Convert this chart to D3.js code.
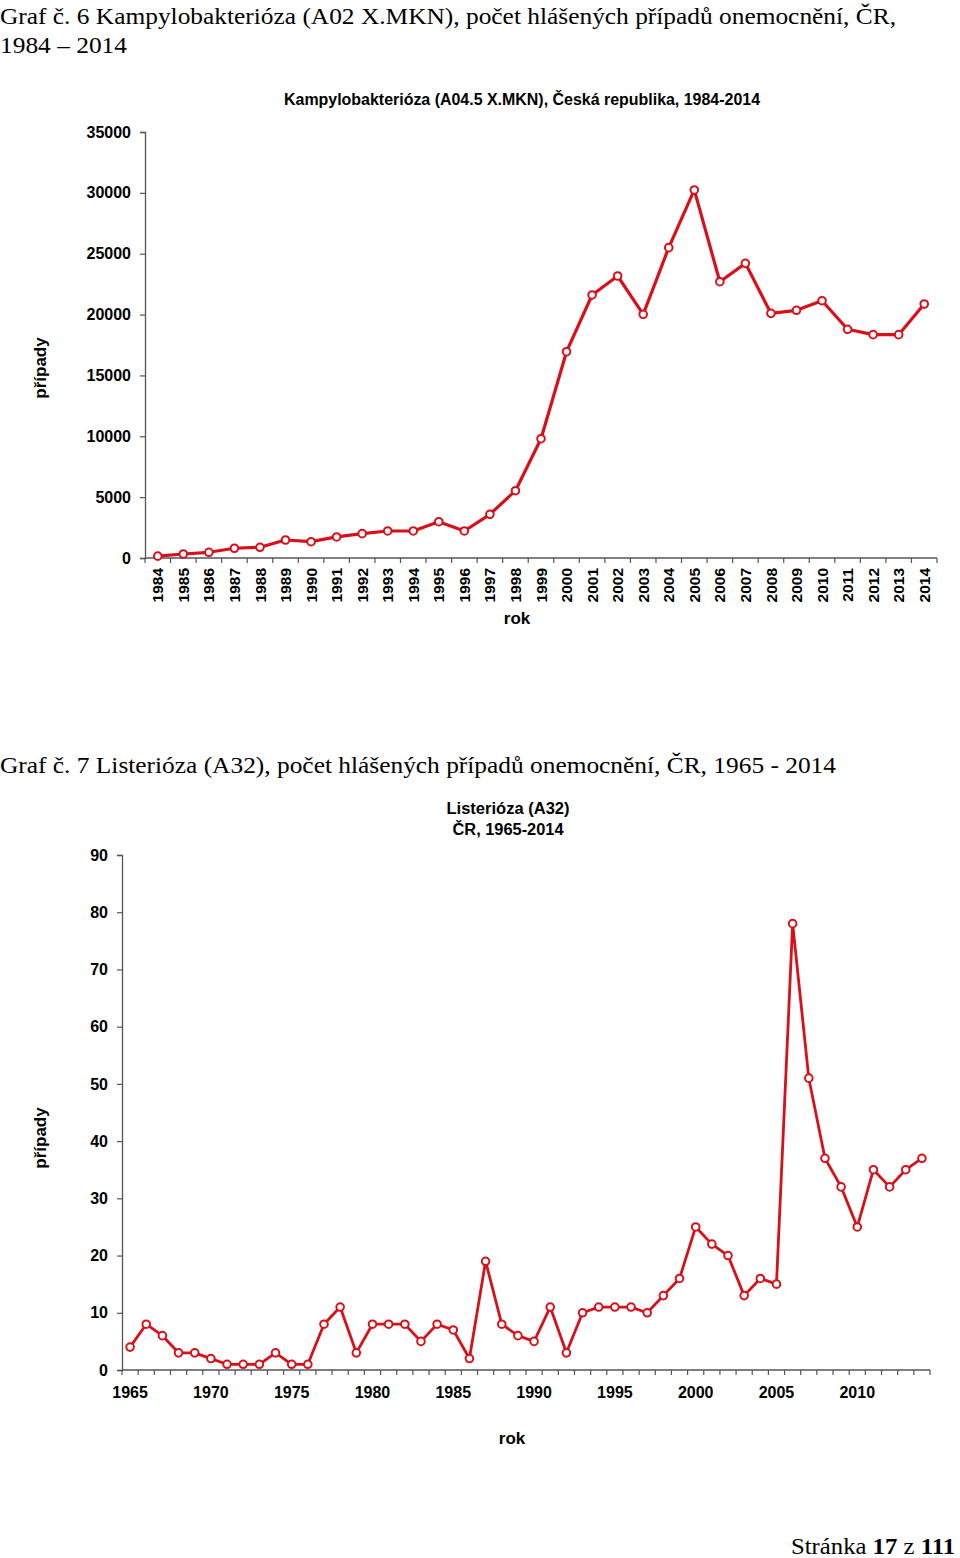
<!DOCTYPE html>
<html>
<head>
<meta charset="utf-8">
<script src="https://cdn.jsdelivr.net/npm/d3@7"></script>
<style>
  html, body { margin: 0; padding: 0; background: #fff; }
  svg { display: block; }
</style>
</head>
<body>
<script>
// ---------- DATA ----------
const campyYears = d3.range(1984, 2015);
const campyValues = [150, 330, 470, 800, 880, 1480, 1340, 1730, 2000, 2220,
  2220, 2980, 2220, 3590, 5530, 9800, 16950, 21610, 23170, 20020,
  25500, 30240, 22700, 24210, 20100, 20350, 21140, 18790, 18350, 18350, 20870];
const campyYTicks = [0, 5000, 10000, 15000, 20000, 25000, 30000, 35000];

const listYears = d3.range(1965, 2015);
const listValues = [4, 8, 6, 3, 3, 2, 1, 1, 1, 3,
  1, 1, 8, 11, 3, 8, 8, 8, 5, 8,
  7, 2, 19, 8, 6, 5, 11, 3, 10, 11,
  11, 11, 10, 13, 16, 25, 22, 20, 13, 16,
  15, 78, 51, 37, 32, 25, 35, 32, 35, 37];
const listYTicks = [0, 10, 20, 30, 40, 50, 60, 70, 80, 90];
const listXLabels = [1965, 1970, 1975, 1980, 1985, 1990, 1995, 2000, 2005, 2010];

const heading1a = "Graf č. 6 Kampylobakterióza (A02 X.MKN), počet hlášených případů onemocnění, ČR,";
const heading1b = "1984 – 2014";
const title1 = "Kampylobakterióza (A04.5 X.MKN), Česká republika, 1984-2014";
const heading2 = "Graf č. 7 Listerióza (A32), počet hlášených případů onemocnění, ČR, 1965 - 2014";
const title2a = "Listerióza (A32)";
const title2b = "ČR, 1965-2014";
const yLabel = "případy";
const xLabel = "rok";

// ---------- SETUP ----------
const W = 960, H = 1558;
const RED = "#d8101a";
const AXIS = "#555";
const SERIF = "'Liberation Serif', 'Times New Roman', serif";
const SANS = "'Liberation Sans', Arial, sans-serif";
const NARROW = "'Liberation Sans Narrow', 'Arial Narrow', 'Liberation Sans', Arial, sans-serif";

const svg = d3.select("body").append("svg").attr("width", W).attr("height", H);
svg.append("rect").attr("width", W).attr("height", H).attr("fill", "#fff");

function serifText(txt, x, y, len, size) {
  const t = svg.append("text").attr("x", x).attr("y", y)
    .attr("font-family", SERIF).attr("font-size", size).attr("fill", "#000").text(txt);
  if (len) t.attr("textLength", len).attr("lengthAdjust", "spacingAndGlyphs");
  return t;
}

// Headings
serifText(heading1a, 0, 24, 896, 23);
serifText(heading1b, 0, 53, 127, 23);
serifText(heading2, 0, 773, 836, 23);

// Footer
const foot = svg.append("text").attr("x", 791).attr("y", 1554)
  .attr("font-family", SERIF).attr("font-size", 23).attr("fill", "#000")
  .attr("textLength", 164).attr("lengthAdjust", "spacingAndGlyphs");
foot.append("tspan").text("Stránka ");
foot.append("tspan").attr("font-weight", "bold").text("17");
foot.append("tspan").text(" z ");
foot.append("tspan").attr("font-weight", "bold").text("111");

// ---------- CHART DRAW HELPER ----------
function drawChart(cfg) {
  const x = d3.scaleBand().domain(cfg.years).range([cfg.x0, cfg.x1]).padding(0);
  const y = d3.scaleLinear().domain(cfg.yDomain).range([cfg.y0, cfg.y1]);
  const g = svg.append("g");

  // Y axis
  const yAxis = d3.axisLeft(y).tickValues(cfg.yTicks).tickSize(5).tickPadding(9)
    .tickFormat(d3.format("d"));
  const ya = g.append("g").attr("transform", `translate(${cfg.x0},0)`).call(yAxis);
  ya.select(".domain").attr("stroke", AXIS).attr("stroke-width", 1.3);
  ya.selectAll(".tick line").attr("stroke", AXIS).attr("stroke-width", 1.2);
  ya.selectAll(".tick text").attr("font-family", SANS).attr("font-weight", "bold")
    .attr("font-size", 16).attr("fill", "#000");

  // X axis line
  const xa = g.append("g").attr("transform", `translate(0,${cfg.y0})`);
  xa.append("line").attr("x1", cfg.x0).attr("x2", cfg.x1)
    .attr("stroke", AXIS).attr("stroke-width", 1.3);
  // separator ticks at band boundaries
  const bounds = cfg.years.map(d => x(d)).concat([x(cfg.years[cfg.years.length - 1]) + x.bandwidth()]);
  xa.selectAll("line.sep").data(bounds).join("line").attr("class", "sep")
    .attr("x1", d => d).attr("x2", d => d).attr("y1", 0).attr("y2", 5)
    .attr("stroke", AXIS).attr("stroke-width", 1.2);

  // X labels
  if (cfg.rotated) {
    xa.selectAll("text.xl").data(cfg.years).join("text").attr("class", "xl")
      .attr("transform", d => `translate(${x(d) + x.bandwidth() / 2},10) rotate(-90)`)
      .attr("text-anchor", "end").attr("dy", "0.36em")
      .attr("font-family", SANS).attr("font-weight", "bold").attr("font-size", 15.5)
      .attr("fill", "#000").text(d => d);
  } else {
    xa.selectAll("text.xl").data(cfg.xLabels).join("text").attr("class", "xl")
      .attr("x", d => x(d) + x.bandwidth() / 2).attr("y", 28)
      .attr("text-anchor", "middle")
      .attr("font-family", SANS).attr("font-weight", "bold").attr("font-size", 16)
      .attr("fill", "#000").text(d => d);
  }

  // Axis titles
  g.append("text").attr("transform", `translate(${cfg.yLabelX},${cfg.yLabelY}) rotate(-90)`)
    .attr("text-anchor", "middle").attr("font-family", SANS).attr("font-weight", "bold")
    .attr("font-size", 17).attr("fill", "#000").text(yLabel);
  g.append("text").attr("x", cfg.xLabelX).attr("y", cfg.xLabelY)
    .attr("text-anchor", "middle").attr("font-family", NARROW).attr("font-weight", "bold")
    .attr("font-size", 17).attr("fill", "#000").text(xLabel);

  // Titles
  cfg.titles.forEach(t => {
    g.append("text").attr("x", t.x).attr("y", t.y).attr("text-anchor", "middle")
      .attr("font-family", NARROW).attr("font-weight", "bold").attr("font-size", 16)
      .attr("fill", "#000").attr("textLength", t.len).attr("lengthAdjust", "spacingAndGlyphs")
      .text(t.text);
  });

  // Line
  const pts = cfg.years.map((yr, i) => ({ yr, v: cfg.values[i] }));
  const line = d3.line().x(d => x(d.yr) + x.bandwidth() / 2).y(d => y(d.v));
  g.append("path").datum(pts).attr("d", line).attr("fill", "none")
    .attr("stroke", RED).attr("stroke-width", cfg.lw).attr("stroke-linejoin", "round");
  g.selectAll("circle").data(pts).join("circle")
    .attr("cx", d => x(d.yr) + x.bandwidth() / 2).attr("cy", d => y(d.v))
    .attr("r", 3.8).attr("fill", "#fff").attr("stroke", RED).attr("stroke-width", 2);
}

drawChart({
  years: campyYears, values: campyValues, yTicks: campyYTicks,
  yDomain: [0, 35000], x0: 145, x1: 937, y0: 558, y1: 132, rotated: true,
  yLabelX: 46, yLabelY: 368, xLabelX: 517, xLabelY: 624, lw: 3.2,
  titles: [{ text: title1, x: 522, y: 105, len: 476 }]
});

drawChart({
  years: listYears, values: listValues, yTicks: listYTicks, xLabels: listXLabels,
  yDomain: [0, 90], x0: 122, x1: 930, y0: 1370, y1: 855, rotated: false,
  yLabelX: 46, yLabelY: 1138, xLabelX: 512, xLabelY: 1444, lw: 2.8,
  titles: [{ text: title2a, x: 508, y: 814, len: 123 }, { text: title2b, x: 508, y: 835, len: 111 }]
});
</script>
</body>
</html>
